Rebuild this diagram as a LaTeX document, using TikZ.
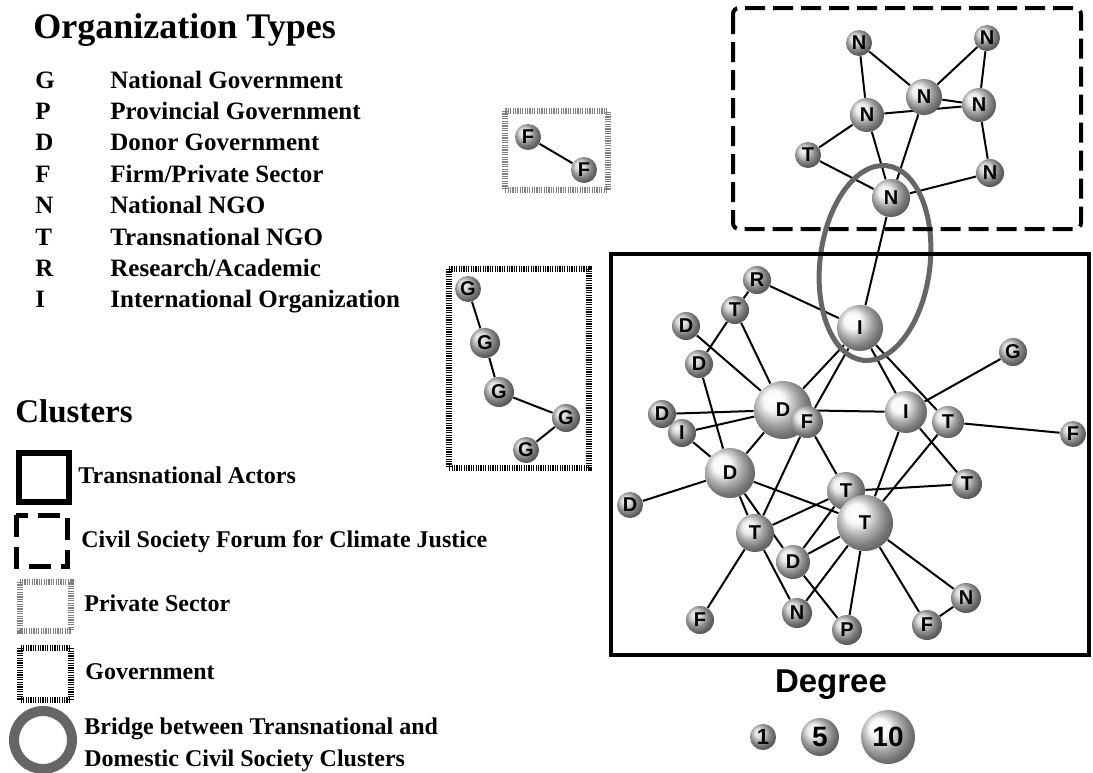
\documentclass[tikz,border=0pt]{standalone}
\usepackage{fontspec}
\setmainfont{Liberation Serif}
\newfontfamily\ballfont{Liberation Sans}
\usepackage{tikz}
\pgfdeclarelayer{bg}
\pgfsetlayers{bg,main}
\definecolor{bridgegray}{gray}{0.4}

\begin{document}
\begin{tikzpicture}[x=0.5pt,y=-0.5pt,
    actor/.style={circle,inner sep=0pt,minimum size=#1,shading=ball,ball color=gray!40,
        font=\ballfont\bfseries\fontsize{10}{10}\selectfont},
    mid/.style={actor=#1,ball color=gray!22},
    hub/.style={actor=#1,ball color=gray!8},
    tie/.style={line width=1pt},
    head/.style={anchor=base west,inner sep=0pt,font=\bfseries\fontsize{18}{20}\selectfont},
    entry/.style={anchor=base west,inner sep=0pt,font=\bfseries\fontsize{12}{14}\selectfont},
    hatch/.style={line width=3pt,dash pattern=on 0.6pt off 0.6pt}]
    \useasboundingbox (0,0) rectangle (1093,772);

    % organization types
    \node[head] (orgtitle) at (33,38) {Organization Types};
    \foreach \c/\t [count=\k from 0] in {G/National Government,P/Provincial Government,
        D/Donor Government,F/{Firm/Private Sector},N/National NGO,T/Transnational NGO,
        R/{Research/Academic},I/International Organization}{
        \node[entry,font=\bfseries\fontsize{12.5}{14}\selectfont] (code\k) at (35,{88+31.4*\k}) {\c};
        \node[entry,font=\bfseries\fontsize{12.5}{14}\selectfont] (type\k) at (110,{88+31.4*\k}) {\t};
    }

    % clusters legend
    \node[head,font=\bfseries\fontsize{16.5}{20}\selectfont] (clutitle) at (15,422) {Clusters};
    \draw[line width=3pt] (19,453) rectangle (69,502);
    \node[entry] (leg1) at (78,483) {Transnational Actors};
    \draw[line width=2.5pt,dash pattern=on 11pt off 5pt] (16,515) rectangle (67,566);
    \node[entry] (leg2) at (81,547) {Civil Society Forum for Climate Justice};
    \draw[hatch,draw=gray] (20,582) rectangle (71,631);
    \node[entry] (leg3) at (84,611) {Private Sector};
    \draw[hatch] (20,648) rectangle (71,700);
    \node[entry] (leg4) at (85,679) {Government};
    \draw[bridgegray,line width=5pt] (43,740) circle [radius=14.5pt];
    \node[entry] (leg5) at (84,734) {Bridge between Transnational and};
    \node[entry] (leg6) at (84,766) {Domestic Civil Society Clusters};

    % private sector and government clusters
    \draw[hatch,draw=gray] (505,111) rectangle (608,190);
    \node[actor=13pt] (fa) at (528,137) {F};
    \node[actor=13pt] (fb) at (584,170) {F};
    \draw[hatch] (449,269) rectangle (589,468);
    \node[actor=13pt] (ga) at (468,289) {G};
    \node[actor=15pt] (gb) at (485,343) {G};
    \node[actor=15pt] (gc) at (499,392) {G};
    \node[actor=14pt] (gd) at (566,418) {G};
    \node[actor=13pt] (ge) at (526,450) {G};

    % civil society forum
    \node[actor=13pt] (na) at (859,43) {N};
    \node[actor=13pt] (nb) at (987,38) {N};
    \node[mid=18pt] (nc) at (924,97) {N};
    \node[mid=17pt] (nd) at (979,105) {N};
    \node[mid=17pt] (ne) at (867,115) {N};
    \node[actor=13pt] (tn) at (808,155) {T};
    \node[actor=14pt] (nf) at (990,173) {N};
    \node[mid=19pt] (ng) at (891,198) {N};

    % transnational actors
    \node[actor=14pt] (r1) at (757,280) {R};
    \node[actor=14pt] (t1) at (735,310) {T};
    \node[actor=14pt] (d1) at (686,326) {D};
    \node[actor=14pt] (d2) at (699,364) {D};
    \node[hub=23pt] (i1) at (860,328) {I};
    \node[actor=14pt] (g1) at (1013,352) {G};
    \node[hub=29pt] (d3) at (783,410) {D};
    \node[mid=16pt] (f1) at (807,422) {F};
    \node[actor=14pt] (d4) at (662,414) {D};
    \node[actor=14pt] (i2) at (682,433) {I};
    \node[hub=21pt] (i3) at (906,412) {I};
    \node[mid=16pt] (t2) at (948,422) {T};
    \node[actor=13pt] (f2) at (1073,434) {F};
    \node[hub=25pt] (d5) at (730,473) {D};
    \node[actor=13pt] (d6) at (630,505) {D};
    \node[mid=19pt] (t3) at (846,491) {T};
    \node[actor=15pt] (t4) at (967,484) {T};
    \node[hub=28pt] (t5) at (865,523) {T};
    \node[mid=19pt] (t6) at (755,533) {T};
    \node[mid=17pt] (d7) at (793,562) {D};
    \node[actor=14pt] (f3) at (700,620) {F};
    \node[actor=15pt] (n1) at (797,613) {N};
    \node[actor=15pt] (p1) at (847,630) {P};
    \node[actor=15pt] (f4) at (927,625) {F};
    \node[actor=15pt] (n2) at (966,598) {N};

    \begin{pgfonlayer}{bg}
        \foreach \a/\b in {fa/fb,ga/gb,gb/gc,gc/gd,gd/ge,
            na/nc,na/ne,nb/nc,nb/nd,ne/nd,nc/nd,ne/tn,ne/ng,tn/ng,nc/ng,nd/nf,nf/ng,ng/i1,
            r1/i1,r1/t1,t1/d2,t1/d3,d1/d3,d2/d5,d4/d3,i2/d3,i2/d5,d3/d5,d3/i1,f1/i1,d3/i3,
            i1/i3,i1/t2,i3/g1,t2/f2,t2/t5,i3/t5,i3/t4,t3/t4,f1/t3,f1/t6,d5/t5,d5/t6,d5/d7,
            d6/d5,t6/t3,t6/f3,t6/n1,d7/t5,d7/t3,d7/p1,t5/n1,t5/p1,t5/f4,t5/n2,f4/n2}
            \draw[tie] (\a) -- (\b);
        \draw[bridgegray,line width=2.5pt,rotate around={-7:(875,263)}]
            (875,263) ellipse [x radius=27.5pt,y radius=49pt];
        \draw[line width=2pt] (611,254) rectangle (1089,655);
        \draw[line width=2pt,dash pattern=on 10pt off 4pt,rounded corners=3pt] (733,8) rectangle (1081,229);
    \end{pgfonlayer}

    % degree scale
    \node[font=\ballfont\bfseries\fontsize{16.5}{18}\selectfont] (degtitle) at (831,685) {Degree};
    \node[actor=13pt,font=\ballfont\bfseries\fontsize{11}{11}\selectfont] (deg1) at (763,737) {1};
    \node[mid=19pt,font=\ballfont\bfseries\fontsize{14}{14}\selectfont] (deg5) at (820,737) {5};
    \node[hub=27pt,font=\ballfont\bfseries\fontsize{14}{14}\selectfont] (deg10) at (888,737) {10};
\end{tikzpicture}
\end{document}
